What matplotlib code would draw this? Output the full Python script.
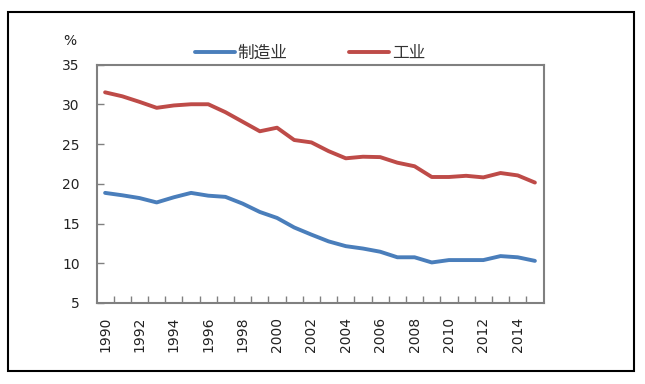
import matplotlib
matplotlib.use("Agg")
import matplotlib.pyplot as plt
from matplotlib.patches import Rectangle
from matplotlib.ticker import FixedLocator

plt.rcParams['font.family'] = ['Noto Sans CJK SC', 'DejaVu Sans']

years = list(range(1990, 2016))
manufacturing = [18.85, 18.55, 18.2, 17.65, 18.3, 18.85, 18.5, 18.35, 17.5, 16.45,
                 15.7, 14.5, 13.6, 12.75, 12.15, 11.85, 11.45, 10.75, 10.75, 10.1,
                 10.4, 10.4, 10.4, 10.9, 10.75, 10.3]
industry = [31.5, 31.0, 30.3, 29.55, 29.85, 30.0, 30.0, 29.0, 27.8, 26.6,
            27.05, 25.5, 25.2, 24.1, 23.2, 23.4, 23.35, 22.65, 22.2, 20.85,
            20.85, 21.0, 20.8, 21.35, 21.05, 20.15]
series_names = ['制造业', '工业']
y_ticks = [5, 10, 15, 20, 25, 30, 35]

W, H = 645, 384
fig = plt.figure(figsize=(W / 100, H / 100), dpi=100)
fig.patch.set_facecolor('white')

# outer border
fig.patches.append(Rectangle((8 / W, 1 - 371 / H), (634 - 8) / W, (371 - 12) / H,
                             transform=fig.transFigure, fill=False,
                             edgecolor='black', linewidth=1.5))

left, right, top, bottom = 96.5, 543.5, 64.5, 303
ax = fig.add_axes([left / W, 1 - bottom / H, (right - left) / W, (bottom - top) / H])

x = list(range(len(years)))
ax.plot(x, manufacturing, color='#4A7EBB', linewidth=2.8, label=series_names[0],
        solid_capstyle='round', solid_joinstyle='round')
ax.plot(x, industry, color='#BE4B48', linewidth=2.8, label=series_names[1],
        solid_capstyle='round', solid_joinstyle='round')

ax.set_xlim(-0.5, len(years) - 0.5)
ax.set_ylim(5, 35)
ax.set_yticks(y_ticks)
ax.set_yticklabels([str(v) for v in y_ticks], fontsize=10, family='DejaVu Sans',
                   color='#222222')

label_pos = [i for i in x if years[i] % 2 == 0]
ax.set_xticks(label_pos)
ax.set_xticklabels([str(years[i]) for i in label_pos], rotation=90, fontsize=10,
                   family='DejaVu Sans', color='#222222')
ax.tick_params(axis='x', which='major', length=0, pad=10)
ax.xaxis.set_minor_locator(FixedLocator([i - 0.5 for i in range(1, len(years))]))
ax.tick_params(axis='x', which='minor', direction='in', length=5, width=1, color='#808080')
ax.tick_params(axis='y', direction='in', length=5, width=1, color='#808080', pad=12)

for s in ax.spines.values():
    s.set_color('#808080')
    s.set_linewidth(1.5)

fig.text(70 / W, 1 - 41 / H, '%', fontsize=10, ha='center', va='center',
         family='DejaVu Sans', color='#222222')

leg = ax.legend(ncol=2, loc='center', bbox_to_anchor=(0.478, 1.046), frameon=False,
                fontsize=12, handlelength=2.4, handletextpad=0.15, columnspacing=3.7,
                borderaxespad=0)
for t in leg.get_texts():
    t.set_color('#333333')

fig.savefig('out.png', dpi=100)
